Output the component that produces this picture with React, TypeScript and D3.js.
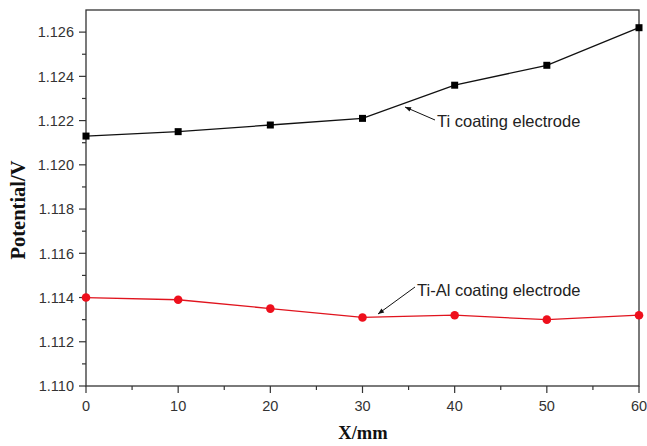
import React from "react";
import * as d3 from "d3";

const xValues = [0, 10, 20, 30, 40, 50, 60];
const tiValues = [1.1213, 1.1215, 1.1218, 1.1221, 1.1236, 1.1245, 1.1262];
const tiAlValues = [1.114, 1.1139, 1.1135, 1.1131, 1.1132, 1.113, 1.1132];
const xTicks = [0, 10, 20, 30, 40, 50, 60];
const yTicks = [1.11, 1.112, 1.114, 1.116, 1.118, 1.12, 1.122, 1.124, 1.126];
const xMinor = [5, 15, 25, 35, 45, 55];
const yMinor = [1.111, 1.113, 1.115, 1.117, 1.119, 1.121, 1.123, 1.125];

const W = 647, H = 446;
const L = 86, R = 639, T = 10, B = 386;

export default function App() {
  const x = d3.scaleLinear().domain([0, 60]).range([L, R]);
  const y = d3.scaleLinear().domain([1.11, 1.127]).range([B, T]);
  const line = d3.line<[number, number]>().x(d => x(d[0])).y(d => y(d[1]));
  const ti = xValues.map((v, i) => [v, tiValues[i]] as [number, number]);
  const tiAl = xValues.map((v, i) => [v, tiAlValues[i]] as [number, number]);
  const font = "Arial, 'Liberation Sans', sans-serif";
  const serif = "'Times New Roman', 'Liberation Serif', serif";
  return (
    <svg width={W} height={H} style={{ position: "absolute", left: 0, top: 0, background: "#fff" }}>
      <defs>
        <marker id="ah" viewBox="0 0 10 10" refX="10" refY="5" markerWidth="9" markerHeight="6" orient="auto" markerUnits="userSpaceOnUse">
          <path d="M0,1 L10,5 L0,9 Z" fill="#111" />
        </marker>
      </defs>
      <rect x={L} y={T} width={R - L} height={B - T} fill="none" stroke="#333" strokeWidth={1.3} />
      {yTicks.map(t => (
        <g key={"y" + t}>
          <line x1={L - 7} x2={L} y1={y(t)} y2={y(t)} stroke="#333" strokeWidth={1.2} />
          <text x={L - 12} y={y(t)} dy="0.36em" textAnchor="end" fontFamily={font} fontSize={14.5} fill="#333">{t.toFixed(3)}</text>
        </g>
      ))}
      {yMinor.map(t => (
        <line key={"ym" + t} x1={L - 4} x2={L} y1={y(t)} y2={y(t)} stroke="#333" strokeWidth={1.2} />
      ))}
      {xTicks.map(t => (
        <g key={"x" + t}>
          <line x1={x(t)} x2={x(t)} y1={B} y2={B + 7} stroke="#333" strokeWidth={1.2} />
          <text x={x(t)} y={B + 25} textAnchor="middle" fontFamily={font} fontSize={14.5} fill="#333">{t}</text>
        </g>
      ))}
      {xMinor.map(t => (
        <line key={"xm" + t} x1={x(t)} x2={x(t)} y1={B} y2={B + 4} stroke="#333" strokeWidth={1.2} />
      ))}
      <text x={363} y={439} textAnchor="middle" fontFamily={serif} fontWeight="bold" fontSize={18.5} fill="#111">X/mm</text>
      <text transform={`translate(25,210) rotate(-90)`} textAnchor="middle" fontFamily={serif} fontWeight="bold" fontSize={20.5} fill="#111">Potential/V</text>

      <path d={line(ti) || ""} fill="none" stroke="#111" strokeWidth={1.3} />
      {ti.map((d, i) => (
        <rect key={"s" + i} x={x(d[0]) - 3.5} y={y(d[1]) - 3.5} width={7} height={7} fill="#000" />
      ))}
      <path d={line(tiAl) || ""} fill="none" stroke="#e0141e" strokeWidth={1.3} />
      {tiAl.map((d, i) => (
        <circle key={"c" + i} cx={x(d[0])} cy={y(d[1])} r={4.3} fill="#ee0f1c" />
      ))}

      <line x1={435} y1={120} x2={405} y2={107} stroke="#111" strokeWidth={1} markerEnd="url(#ah)" />
      <text x={437} y={127} fontFamily={font} fontSize={16.5} fill="#222">Ti coating electrode</text>
      <line x1={415} y1={287} x2={378} y2={314} stroke="#111" strokeWidth={1} markerEnd="url(#ah)" />
      <text x={417} y={296} fontFamily={font} fontSize={16.5} fill="#222">Ti-Al coating electrode</text>
    </svg>
  );
}
